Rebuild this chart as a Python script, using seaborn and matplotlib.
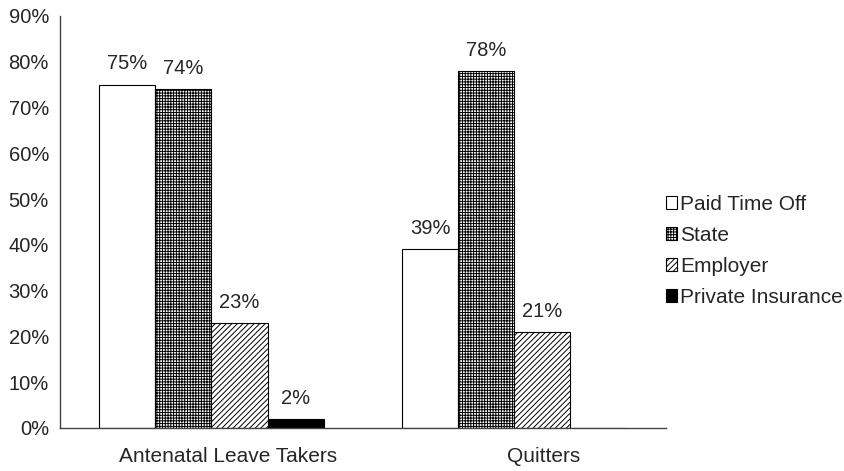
import pandas as pd
import seaborn as sns
import matplotlib.pyplot as plt
from matplotlib.patches import Patch
from matplotlib.ticker import PercentFormatter

# values (percent)
groups = ['Antenatal Leave Takers', 'Quitters']
sources = ['Paid Time Off', 'State', 'Employer', 'Private Insurance']
leave_takers = [75, 74, 23, 2]
quitters = [39, 78, 21, 0]
quitter_labels = ['39%', '78%', '21%', '']

hatches = ['', '++++++', '//////', '']
faces = ['white', 'white', 'white', 'black']

df = pd.DataFrame({
    'group': [groups[0]] * 4 + [groups[1]] * 4,
    'source': sources * 2,
    'pct': leave_takers + quitters,
})

sns.set_style('white')
plt.rcParams['font.family'] = ['Liberation Sans', 'DejaVu Sans']
plt.rcParams['hatch.linewidth'] = 0.7
fs = 14.5

fig = plt.figure(figsize=(8.45, 4.71), dpi=100)
ax = fig.add_axes([0.071, 0.0913, 0.717, 0.875])

sns.barplot(data=df, x='group', y='pct', hue='source', hue_order=sources,
            palette=['white'] * 4, width=0.74, edgecolor='black', linewidth=0.8,
            legend=False, ax=ax)

for i, cont in enumerate(ax.containers):
    for bar in cont:
        bar.set_hatch(hatches[i])
        bar.set_facecolor(faces[i])
    labels = [f'{leave_takers[i]}%', quitter_labels[i]]
    ax.bar_label(cont, labels=labels, padding=8, fontsize=fs)

ax.set_ylim(0, 90)
ax.set_xlim(-0.5, 1.5)
ax.set_yticks(range(0, 91, 10))
ax.yaxis.set_major_formatter(PercentFormatter(decimals=0))
ax.set_xticks([-0.5, 0.5, 1.5], minor=False)
ax.set_xticklabels([])
# category labels sit a little right of the group centres in the original
ax.set_xticks([0.055, 1.095], minor=True)
ax.set_xticklabels(groups, minor=True, fontsize=15)
ax.tick_params(axis='x', which='minor', length=0, pad=14)
ax.tick_params(axis='x', which='major', direction='in', length=5, color='#444444')
ax.tick_params(axis='y', direction='out', length=5, labelsize=fs, pad=3, color='#444444')
ax.set_xlabel('')
ax.set_ylabel('')
for s in ['top', 'right']:
    ax.spines[s].set_visible(False)
for s in ['left', 'bottom']:
    ax.spines[s].set_color('#444444')
    ax.spines[s].set_linewidth(1.0)

handles = [Patch(facecolor=faces[i], edgecolor='black', hatch=hatches[i], linewidth=0.8)
           for i in range(4)]
ax.legend(handles, sources, loc='center left', bbox_to_anchor=(1.0, 0.43),
          frameon=False, fontsize=15, handlelength=0.55, handleheight=0.55,
          handletextpad=0.12, labelspacing=0.58, borderpad=0, borderaxespad=0)

fig.savefig('out.png', dpi=100)
